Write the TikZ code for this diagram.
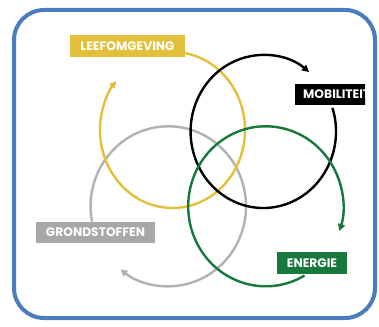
\documentclass[tikz,border=0pt]{standalone}
\usepackage{fontspec}
\setmainfont{Poppins}
\usetikzlibrary{arrows.meta}
\definecolor{frameblue}{RGB}{74,124,190}
\definecolor{ylw}{RGB}{226,192,58}
\definecolor{grn}{RGB}{22,120,60}
\definecolor{gry}{RGB}{178,178,178}
\definecolor{grybox}{RGB}{168,168,168}
\begin{document}
\begin{tikzpicture}[x=1pt,y=1pt,
  ring/.style={line width=2.4pt, -{Triangle[length=7pt,width=7pt]}},
  lab/.style={inner sep=0pt, minimum height=21.5pt, text=white,
    font=\fontsize{12.3}{12.3}\selectfont\bfseries},
]
\useasboundingbox (0,0) rectangle (379,326);
\fill[white] (0,0) rectangle (379,326);
\draw[frameblue, line width=4pt, rounded corners=30pt] (14,8) rectangle (375,316);

\coordinate (cy) at (172.5,196);
\coordinate (cb) at (263.3,194.5);
\coordinate (cg) at (265.7,119.7);
\coordinate (cr) at (168.3,119.7);

\draw[ring, gry] (cr) ++(191:77.7 and 80) arc[start angle=191, end angle=-128, x radius=77.7, y radius=80];
\draw[ring, ylw] (cy) ++(80:72.5 and 78) arc[start angle=80, end angle=-219, x radius=72.5, y radius=78];
\draw[ring, black] (cb) ++(18:72.7 and 76.5) arc[start angle=18, end angle=-309, x radius=72.7, y radius=76.5];
\draw[ring, grn] (cg) ++(-60:77.5 and 80) arc[start angle=-60, end angle=-378, x radius=77.5, y radius=80];

\node[lab, fill=ylw, minimum width=115pt] (leef) at (127.5,280) {LEEFOMGEVING};
\node[lab, fill=grybox, minimum width=119pt] (grond) at (95.5,93.5) {GRONDSTOFFEN};
\node[lab, fill=grn, minimum width=70pt] (ener) at (312,63) {ENERGIE};
\begin{scope}
  \clip (290,215) rectangle (365,250);
  \node[lab, fill=black, anchor=west, inner xsep=8pt] (mob) at (295,231.5) {MOBILITEIT};
\end{scope}
\end{tikzpicture}
\end{document}
